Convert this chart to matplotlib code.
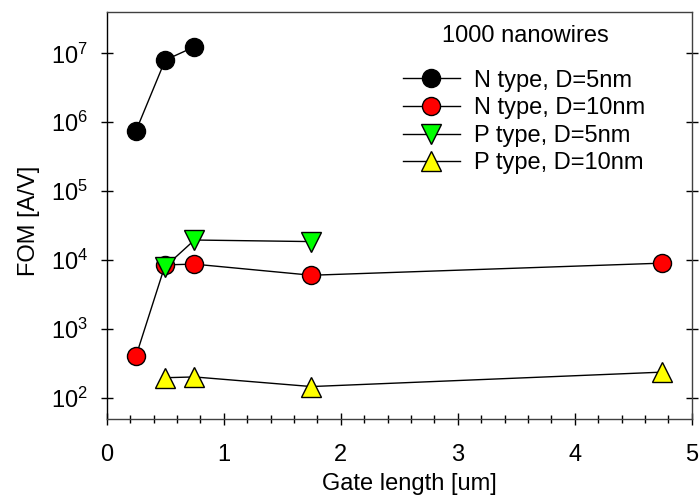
import matplotlib
matplotlib.use("Agg")
import matplotlib.pyplot as plt
from matplotlib.ticker import MultipleLocator, LogLocator, NullLocator

plt.rcParams['font.family'] = ['Liberation Sans', 'DejaVu Sans']

# Data
n5_x = [0.25, 0.5, 0.75]
n5_y = [7.5e5, 8.0e6, 1.25e7]
n10_x = [0.25, 0.5, 0.75, 1.75, 4.75]
n10_y = [400, 8.5e3, 8.7e3, 6.0e3, 9.0e3]
p5_x = [0.5, 0.75, 1.75]
p5_y = [8.0e3, 1.95e4, 1.85e4]
p10_x = [0.5, 0.75, 1.75, 4.75]
p10_y = [195, 200, 145, 235]

labels = ["N type, D=5nm", "N type, D=10nm", "P type, D=5nm", "P type, D=10nm"]
legend_title = "1000 nanowires"
xlabel = "Gate length [um]"
ylabel = "FOM [A/V]"

W, H = 700, 497
FS = 17

fig = plt.figure(figsize=(7.0, 4.97), dpi=100)
ax = fig.add_axes([106.7 / W, 1 - 419 / H, (691.7 - 106.7) / W, (419 - 12) / H])

lw = 1.0
ax.plot(n5_x, n5_y, color='black', lw=lw, marker='o', ms=13, mfc='black', mec='black', mew=1, label=labels[0])
ax.plot(n10_x, n10_y, color='black', lw=lw, marker='o', ms=13, mfc='#ff0000', mec='black', mew=1, label=labels[1])
ax.plot(p5_x, p5_y, color='black', lw=lw, marker='v', ms=14, mfc='#00ff00', mec='black', mew=1, label=labels[2])
ax.plot(p10_x, p10_y, color='black', lw=lw, marker='^', ms=14, mfc='#ffff00', mec='black', mew=1, label=labels[3])

ax.set_yscale('log')
ax.set_xlim(0, 5)
ax.set_ylim(49, 4e7)

ax.xaxis.set_major_locator(MultipleLocator(1))
ax.xaxis.set_minor_locator(MultipleLocator(0.2))
ax.yaxis.set_major_locator(LogLocator(base=10, numticks=20))
ax.yaxis.set_minor_locator(NullLocator())

ax.tick_params(axis='x', which='major', direction='inout', length=8, width=1, labelsize=FS, pad=14, top=False)
ax.tick_params(axis='x', which='minor', direction='inout', length=5.5, width=1, top=False)
ax.tick_params(axis='y', which='major', direction='inout', length=8.5, width=1, labelsize=FS, pad=9, right=True)

for s in ['top', 'right', 'bottom']:
    ax.spines[s].set_color('#404040')
ax.spines['left'].set_color('black')
for s in ax.spines.values():
    s.set_linewidth(1.0)

ax.set_xlabel(xlabel, fontsize=FS, labelpad=5, x=0.518)
ax.set_ylabel(ylabel, fontsize=FS, labelpad=8, y=0.487)

fig.text(525 / W, 1 - 36 / H, legend_title, fontsize=FS, ha='center', va='center')

leg = ax.legend(loc='upper left', bbox_to_anchor=(403 / W, 1 - 69.5 / H), bbox_transform=fig.transFigure,
                frameon=False, fontsize=FS,
                handlelength=2.41, handletextpad=0.58, labelspacing=0.24,
                borderpad=0, borderaxespad=0)

fig.savefig('out.png', dpi=100)
